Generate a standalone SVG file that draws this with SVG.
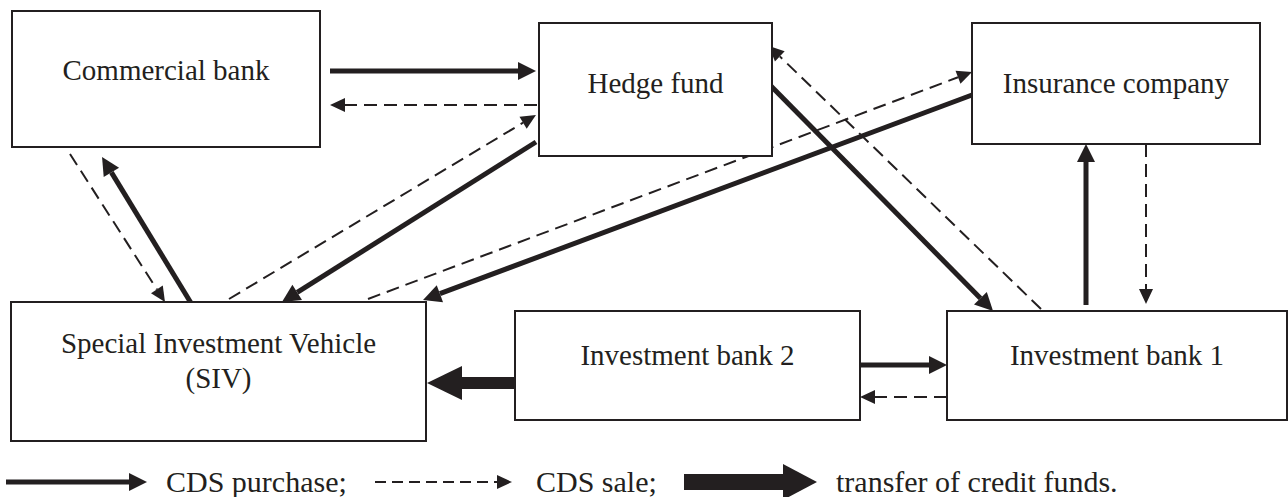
<svg xmlns="http://www.w3.org/2000/svg" width="1288" height="497" viewBox="0 0 1288 497">
<style>
.box{fill:#fff;stroke:#231f20;stroke-width:2}
.t{font-family:"Liberation Serif","Times New Roman",serif;font-size:29px;fill:#231f20;text-anchor:middle}
.lt{font-family:"Liberation Serif","Times New Roman",serif;font-size:30px;fill:#231f20}
.s{stroke:#231f20;stroke-width:5;fill:none}
.d{stroke:#231f20;stroke-width:2;fill:none;stroke-dasharray:13 7}
.sa{marker-end:url(#hs)}
.da{marker-end:url(#hd)}
</style>
<defs>
<marker id="hs" markerUnits="userSpaceOnUse" markerWidth="18" markerHeight="18" refX="0" refY="9" orient="auto" overflow="visible">
<path d="M0,0 L18,9 L0,18 z" fill="#231f20"/>
</marker>
<marker id="hd" markerUnits="userSpaceOnUse" markerWidth="15" markerHeight="14" refX="0" refY="7" orient="auto" overflow="visible">
<path d="M0,0 L15,7 L0,14 z" fill="#231f20"/>
</marker>
</defs>
<rect width="1288" height="497" fill="#fff"/>
<g id="connectors">
<line class="s sa" x1="330" y1="71" x2="518" y2="71"/>
<line class="d da" x1="537" y1="105" x2="345" y2="105"/>
<line class="d da" x1="70" y1="154" x2="156.9" y2="289.4"/>
<line class="s sa" x1="191" y1="303" x2="111.4" y2="172.4"/>
<line class="d da" x1="229" y1="299" x2="523.1" y2="122.7"/>
<line class="s sa" x1="536" y1="142" x2="297.2" y2="292.4"/>
<line class="d da" x1="368" y1="299" x2="958" y2="77.3"/>
<line class="s sa" x1="972" y1="95" x2="439.9" y2="293.7"/>
<line class="s sa" x1="768" y1="83" x2="980.4" y2="298.2"/>
<line class="d da" x1="1041" y1="309" x2="779.8" y2="56.4"/>
<line class="s sa" x1="1086" y1="305" x2="1086" y2="162"/>
<line class="d da" x1="1146" y1="144" x2="1146" y2="289"/>
<line class="s sa" x1="856" y1="365" x2="929" y2="365"/>
<line class="d da" x1="947" y1="397" x2="875" y2="397"/>
<rect x="462" y="377" width="53" height="12" fill="#231f20"/>
<path d="M462,366 L427,383 L462,400 z" fill="#231f20"/>
</g>
<g id="commercial-bank">
<rect class="box" x="12" y="11" width="308" height="136"/>
<text class="t" x="166" y="80">Commercial bank</text>
</g>
<g id="hedge-fund">
<rect class="box" x="539" y="23" width="233" height="133"/>
<text class="t" x="655.5" y="93">Hedge fund</text>
</g>
<g id="insurance-company">
<rect class="box" x="972" y="23" width="288" height="121"/>
<text class="t" x="1116" y="93">Insurance company</text>
</g>
<g id="siv">
<rect class="box" x="11" y="302" width="415" height="139"/>
<text class="t" x="218.5" y="353">Special Investment Vehicle</text>
<text class="t" x="218.5" y="388">(SIV)</text>
</g>
<g id="investment-bank-2">
<rect class="box" x="515" y="311" width="345" height="109"/>
<text class="t" x="687.5" y="365">Investment bank 2</text>
</g>
<g id="investment-bank-1">
<rect class="box" x="947" y="311" width="340" height="109"/>
<text class="t" x="1117" y="365">Investment bank 1</text>
</g>
<g id="legend">
<line class="s sa" x1="6" y1="482" x2="129" y2="482"/>
<text class="lt" x="166" y="492">CDS purchase;</text>
<line class="d da" x1="375" y1="482" x2="497" y2="482" style="stroke-dasharray:11 6"/>
<text class="lt" x="536" y="492">CDS sale;</text>
<rect x="684" y="474" width="100" height="16" fill="#231f20"/>
<path d="M783,464 L817,482 L783,500 z" fill="#231f20"/>
<text class="lt" x="836" y="492">transfer of credit funds.</text>
</g>
</svg>
